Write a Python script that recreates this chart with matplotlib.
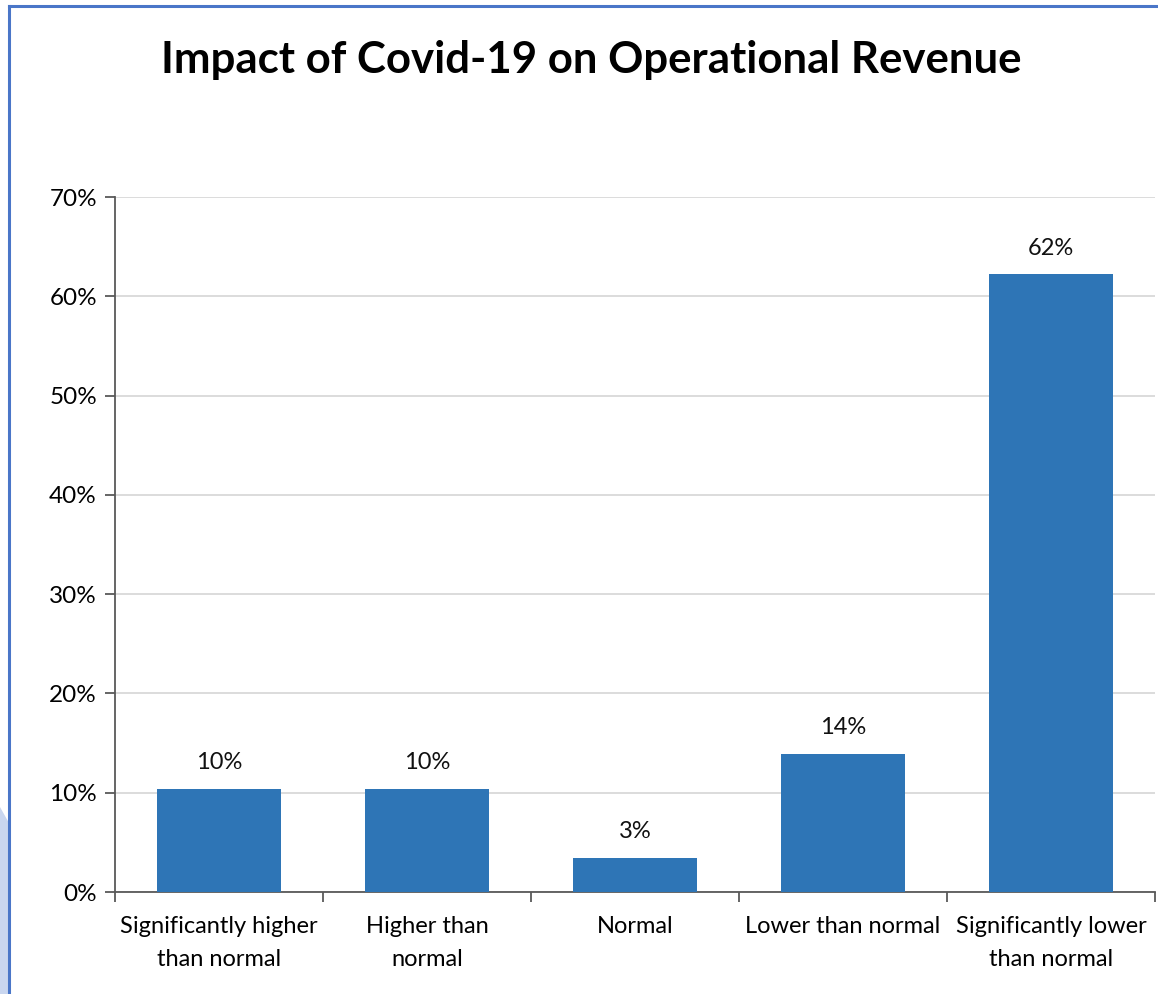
import matplotlib
matplotlib.use("Agg")
from matplotlib import pyplot as plt
from matplotlib.patches import Polygon
from matplotlib.lines import Line2D

categories = ["Significantly higher\nthan normal", "Higher than\nnormal", "Normal",
              "Lower than normal", "Significantly lower\nthan normal"]
values = [10.4, 10.4, 3.4, 13.9, 62.2]
labels = ["10%", "10%", "3%", "14%", "62%"]
yticks = [0, 10, 20, 30, 40, 50, 60, 70]

plt.rcParams['font.family'] = ['Lato', 'DejaVu Sans']

fig = plt.figure(figsize=(11.58, 9.94), dpi=100)
ax = fig.add_axes([0.0993, 0.1026, 0.8981, 0.6992])

x = range(len(categories))
bars = ax.bar(x, values, width=0.6, color="#2e75b6", zorder=3)
for b, lab in zip(bars, labels):
    ax.text(b.get_x() + b.get_width() / 2, b.get_height() + 1.6, lab,
            ha="center", va="bottom", fontsize=17, color="#111111")

ax.set_xlim(-0.5, len(categories) - 0.5)
ax.set_ylim(0, 70)
ax.set_yticks(yticks)
ax.set_yticklabels([f"{t}%" for t in yticks], fontsize=17.5)
ax.set_xticks([i - 0.5 for i in range(len(categories) + 1)])
ax.set_xticklabels([])
ax.set_xticks(list(x), minor=True)
ax.set_xticklabels(categories, minor=True, fontsize=17, linespacing=1.7)
ax.tick_params(axis="x", which="minor", length=0, pad=17)
ax.tick_params(axis="x", which="major", length=7, color="#595959", width=1.3)
ax.tick_params(axis="y", length=7, color="#595959", width=1.3, pad=6)
ax.yaxis.grid(True, color="#d9d9d9", linewidth=1.3, zorder=0)
for s in ["top", "right"]:
    ax.spines[s].set_visible(False)
for s in ["left", "bottom"]:
    ax.spines[s].set_color("#595959")
    ax.spines[s].set_linewidth(1.3)

fig.text(0.511, 0.940, "Impact of Covid-19 on Operational Revenue", ha="center", va="center",
         fontsize=31.5, fontweight="bold", color="black")

# frame and side decoration
fig.add_artist(Polygon([[0, 0], [0, 1 - 807 / 994], [9 / 1158, 1 - 823 / 994], [9 / 1158, 0]],
                       closed=True, transform=fig.transFigure, facecolor="#c9d6ef", edgecolor="none"))
fig.add_artist(Line2D([9 / 1158, 1], [1 - 6 / 994, 1 - 6 / 994], transform=fig.transFigure,
                      color="#4a76c8", linewidth=2.2))
fig.add_artist(Line2D([9 / 1158, 9 / 1158], [0, 1 - 6 / 994], transform=fig.transFigure,
                      color="#4a76c8", linewidth=2.2))

fig.savefig("out.png", dpi=100)
